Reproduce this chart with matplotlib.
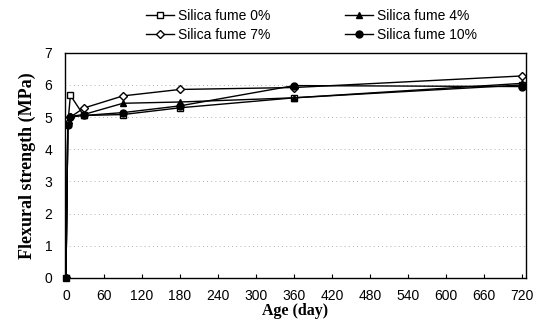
import matplotlib
matplotlib.use("Agg")
import matplotlib.pyplot as plt

# age (day) and flexural strength (MPa)
age = [0, 3, 7, 28, 90, 180, 360, 720]
sf0 = [0, 4.78, 5.68, 5.05, 5.08, 5.29, 5.60, 6.00]
sf4 = [0, 4.78, 5.02, 5.08, 5.43, 5.47, 5.60, 6.05]
sf7 = [0, 4.82, 5.00, 5.28, 5.66, 5.86, 5.92, 6.28]
sf10 = [0, 4.75, 5.00, 5.05, 5.14, 5.35, 5.98, 5.95]

xticks = list(range(0, 721, 60))
yticks = list(range(0, 8))

fig = plt.figure(figsize=(5.39, 3.30), dpi=100)
ax = fig.add_axes([0.12, 0.158, 0.856, 0.682])

lw = 1.0
l0, = ax.plot(age, sf0, '-', color='k', lw=lw, marker='s', ms=5, mfc='white', mec='k', label='Silica fume 0%')
l4, = ax.plot(age, sf4, '-', color='k', lw=lw, marker='^', ms=5, mfc='k', label='Silica fume 4%')
l7, = ax.plot(age, sf7, '-', color='k', lw=lw, marker='D', ms=4, mfc='white', mec='k', label='Silica fume 7%')
l10, = ax.plot(age, sf10, '-', color='k', lw=lw, marker='o', ms=5, mfc='k', label='Silica fume 10%')
# origin point drawn as a filled square, as in the original
ax.plot(age[:1], sf0[:1], 's', color='k', ms=5, zorder=5, clip_on=False)

ax.set_xlim(-2, 726)
ax.set_ylim(0, 7)
ax.set_xticks(xticks)
ax.set_yticks(yticks)
for y in yticks[1:-1]:
    ax.axhline(y, color='#999999', lw=0.6, ls=(0, (1, 4)), zorder=0)

tick_font = dict(family='Liberation Sans', size=10)
ax.set_xticklabels([str(t) for t in xticks], **tick_font)
ax.set_yticklabels([str(t) for t in yticks], **tick_font)
ax.tick_params(axis='x', direction='in', length=3, pad=8)
ax.tick_params(axis='y', direction='in', length=0, pad=9)
for s in ax.spines.values():
    s.set_linewidth(1.0)

ax.set_xlabel('Age (day)', family='Liberation Serif', weight='bold', size=11.5, labelpad=0)
ax.set_ylabel('Flexural strength (MPa)', family='Liberation Serif', weight='bold', size=13, labelpad=6)

fig.legend([l0, l7, l4, l10], [l.get_label() for l in [l0, l7, l4, l10]],
           ncol=2, frameon=False, loc='upper center', bbox_to_anchor=(0.578, 1.01),
           prop=dict(family='Liberation Sans', size=10), handlelength=2.0,
           columnspacing=5.35, labelspacing=0.35, handletextpad=0.3)

fig.savefig('out.png', dpi=100)
